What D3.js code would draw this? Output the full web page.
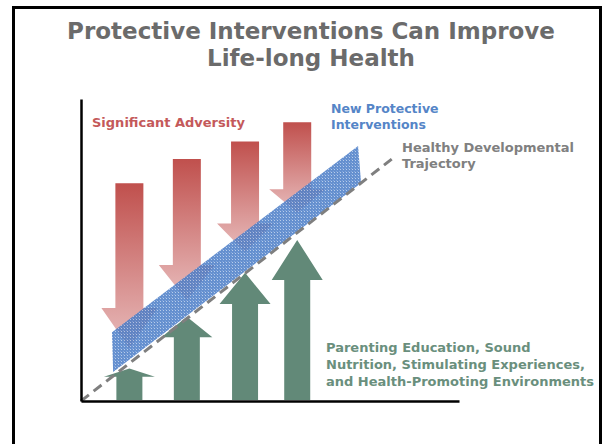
<!DOCTYPE html>
<html>
<head>
<meta charset="utf-8">
<script src="https://cdn.jsdelivr.net/npm/d3@7"></script>
<style>
  body { margin: 0; background: #fff; }
  text { font-family: "DejaVu Sans", Verdana, sans-serif; font-weight: bold; }
</style>
</head>
<body>
<div id="chart"></div>
<script>
// conceptual units: x = developmental stage, y = health level (0..10 on both axes)
const stageX = [1.28, 2.8, 4.34, 5.72];

// red "adversity" arrows pushing down
const adversityTop = [7.21, 8.01, 8.59, 9.23];
const adversityHead = [3.08, 4.50, 5.88, 7.01];
const adversityTip = [1.75, 3.34, 4.93, 6.23];

// green "supports" arrows pushing up
const supportHead = [0.80, 2.11, 3.21, 4.01];
const supportTip = [1.08, 2.79, 4.25, 5.33];

// healthy trajectory and protective band
const trajectory = [[0, 0], [8.22, 8.01]];
const bandLower = [[0.85, 0.96], [7.41, 7.22]];
const bandUpper = [[0.82, 2.28], [7.33, 8.44]];

const titleLines = ["Protective Interventions Can Improve", "Life-long Health"];
const adversityLabel = ["Significant Adversity"];
const protectiveLabel = ["New Protective", "Interventions"];
const trajectoryLabel = ["Healthy Developmental", "Trajectory"];
const supportLabel = ["Parenting Education, Sound", "Nutrition, Stimulating Experiences,", "and Health-Promoting Environments"];

const width = 602, height = 444;

const svg = d3.select("#chart").append("svg")
    .attr("width", width)
    .attr("height", height);

const defs = svg.append("defs");

let grad = defs.append("linearGradient")
    .attr("id", "redGrad")
    .attr("x1", 0).attr("y1", 0).attr("x2", 0).attr("y2", 1);
grad.append("stop").attr("offset", "0%").attr("stop-color", "#c0504d");
grad.append("stop").attr("offset", "100%").attr("stop-color", "#e8bcbc");

let pat = defs.append("pattern")
    .attr("id", "bandPat")
    .attr("patternUnits", "userSpaceOnUse")
    .attr("width", 3).attr("height", 3);
pat.append("rect").attr("width", 3).attr("height", 3).attr("fill", "#4a7cc6");
pat.append("rect").attr("x", 1).attr("y", 1).attr("width", 1).attr("height", 1).attr("fill", "#aac3e8");
pat.append("rect").attr("x", 0).attr("y", 0).attr("width", 1).attr("height", 1).attr("fill", "#6d96d6");

// slide frame
svg.append("path")
    .attr("d", "M13.5," + (height + 5) + "V7.5H600.5V" + (height + 5))
    .attr("fill", "none")
    .attr("stroke", "#000")
    .attr("stroke-width", 3);

// title
svg.append("g").selectAll("text")
    .data(titleLines)
    .enter().append("text")
    .attr("x", 311)
    .attr("y", (d, i) => 39 + i * 27)
    .attr("text-anchor", "middle")
    .attr("font-size", 23)
    .attr("fill", "#6b6b6b")
    .text(d => d);

const x = d3.scaleLinear().domain([0, 10]).range([81, 459]);
const y = d3.scaleLinear().domain([0, 10]).range([401, 99]);

const arrow = (cx, y0, yb, yt, shaft, head) => {
    let p = d3.path();
    p.moveTo(cx - shaft / 2, y0);
    p.lineTo(cx + shaft / 2, y0);
    p.lineTo(cx + shaft / 2, yb);
    p.lineTo(cx + head / 2, yb);
    p.lineTo(cx, yt);
    p.lineTo(cx - head / 2, yb);
    p.lineTo(cx - shaft / 2, yb);
    p.closePath();
    return p.toString();
};

// adversity arrows
svg.append("g").selectAll("path")
    .data(stageX)
    .enter().append("path")
    .attr("d", (d, i) => arrow(x(d), y(adversityTop[i]), y(adversityHead[i]), y(adversityTip[i]), 28, 56))
    .attr("fill", "url(#redGrad)");

// supporting arrows
svg.append("g").selectAll("path")
    .data(stageX)
    .enter().append("path")
    .attr("d", (d, i) => arrow(x(d), y(0) - 1, y(supportHead[i]), y(supportTip[i]), 26, 51))
    .attr("fill", "#628978");

// protective band
let band = bandUpper.concat(bandLower.slice().reverse());
svg.append("path")
    .datum(band)
    .attr("d", d3.line().x(d => x(d[0])).y(d => y(d[1])).curve(d3.curveLinearClosed))
    .attr("fill", "url(#bandPat)")
    .attr("opacity", 0.85);

// healthy trajectory
svg.append("path")
    .datum(trajectory)
    .attr("d", d3.line().x(d => x(d[0])).y(d => y(d[1])))
    .attr("stroke", "#7f7f7f")
    .attr("stroke-width", 3)
    .attr("stroke-dasharray", "10,6")
    .attr("fill", "none");

// axes
svg.append("g")
    .attr("transform", "translate(" + x(0) + ",0)")
    .call(d3.axisLeft(y).ticks(0).tickSize(0))
    .call(g => g.select(".domain").attr("stroke-width", 2.5));
svg.append("g")
    .attr("transform", "translate(0," + y(0) + ")")
    .call(d3.axisBottom(x).ticks(0).tickSize(0))
    .call(g => g.select(".domain").attr("stroke-width", 2.5));

const label = (lines, lx, ly, step, size, color) => {
    svg.append("g").selectAll("text")
        .data(lines)
        .enter().append("text")
        .attr("x", lx)
        .attr("y", (d, i) => ly + i * step)
        .attr("font-size", size)
        .attr("fill", color)
        .text(d => d);
};

label(adversityLabel, 92, 127, 16, 13, "#c4595a");
label(protectiveLabel, 331, 113, 16, 12.5, "#5585c7");
label(trajectoryLabel, 402, 152, 15.5, 13, "#808080");
label(supportLabel, 326, 352, 16.8, 13, "#6a8f7d");
</script>
</body>
</html>
